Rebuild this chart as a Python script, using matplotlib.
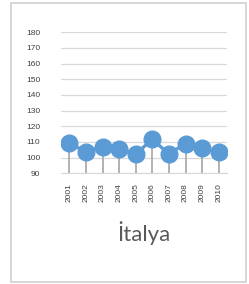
import matplotlib
matplotlib.use("Agg")
import matplotlib.pyplot as plt
from matplotlib.patches import Rectangle

# chart data
years = ["2001", "2002", "2003", "2004", "2005", "2006", "2007", "2008", "2009", "2010"]
values = [109.1, 103.8, 107.0, 105.3, 102.3, 111.7, 102.3, 109.0, 106.3, 103.4]
y_ticks = [90, 100, 110, 120, 130, 140, 150, 160, 170, 180]
title = "İtalya"

W, H = 249, 284
fig = plt.figure(figsize=(W / 100, H / 100), dpi=100)
fig.patch.set_facecolor("white")

# outer chart border
fig.patches.append(Rectangle((11 / W, 2 / H), 235 / W, 279 / H, transform=fig.transFigure,
                             fill=False, edgecolor="#D0D0D0", linewidth=1.2))

ax = fig.add_axes([61 / W, 1 - 173.3 / H, 166 / W, 141 / H])
x = list(range(len(years)))

ax.vlines(x, 90, values, color="#A6A6A6", linewidth=1.2, zorder=2)
ax.plot(x, values, color="#5B9BD5", linewidth=2.4, marker="o", markersize=12,
        markerfacecolor="#5B9BD5", markeredgecolor="#5B9BD5", zorder=3)

ax.set_xlim(-0.5, len(years) - 0.5)
ax.set_ylim(90, 180)
ax.set_yticks(y_ticks)
ax.set_xticks(x)
ax.set_xticklabels(years, rotation=90)
ax.grid(axis="y", color="#D9D9D9", linewidth=0.9)
ax.set_axisbelow(True)
for s in ["top", "right", "left"]:
    ax.spines[s].set_visible(False)
ax.spines["bottom"].set_color("#D9D9D9")
ax.tick_params(axis="both", length=0, labelsize=6, colors="#404040")
ax.tick_params(axis="y", pad=15)
ax.tick_params(axis="x", pad=7)
for lbl in ax.get_xticklabels() + ax.get_yticklabels():
    lbl.set_family("Liberation Sans")

fig.text(144 / W, 1 - 233 / H, title, ha="center", va="center", fontsize=16,
         color="#595959", family="Lato")

fig.savefig("out.png", dpi=100)
